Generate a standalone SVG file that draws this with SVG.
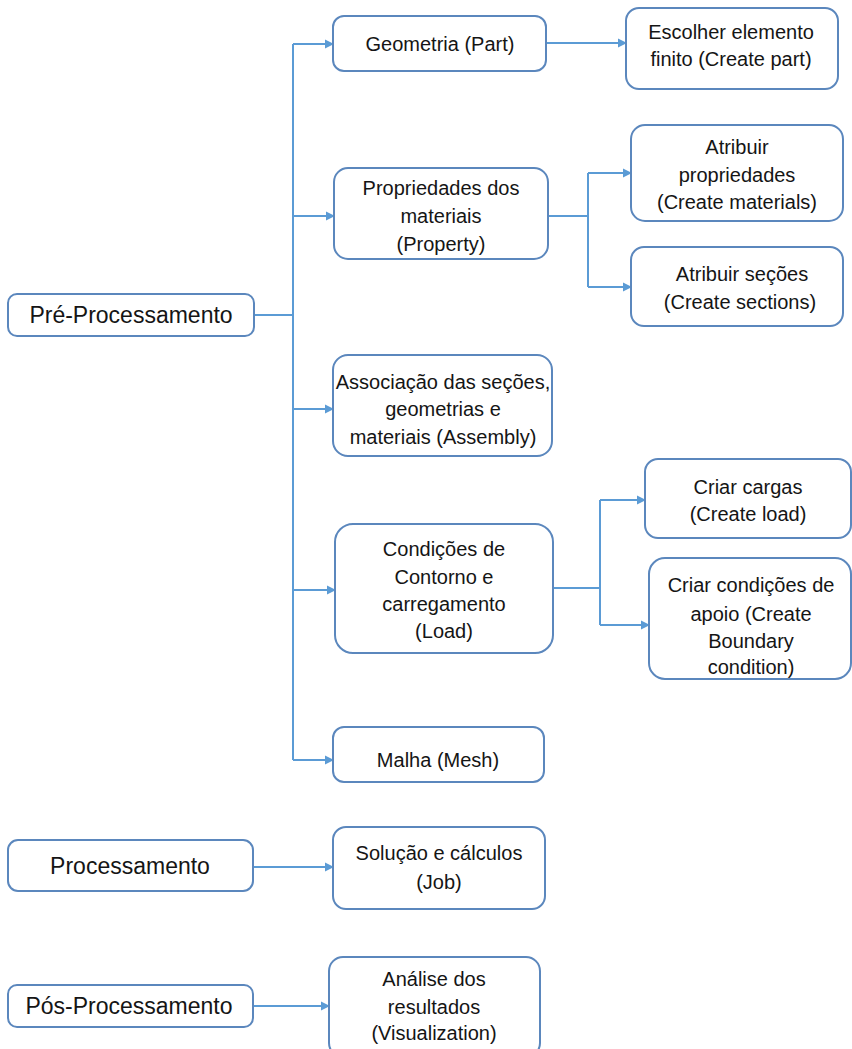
<svg xmlns="http://www.w3.org/2000/svg" width="852" height="1049" viewBox="0 0 852 1049">
<style>
.box{fill:#fff;stroke:#5b87bd;stroke-width:2}
.t{font-family:"Liberation Sans",Arial,sans-serif;font-size:20px;fill:#151515;text-anchor:middle}
.big{font-size:23px}
.c{fill:none;stroke:#5b9bd5;stroke-width:2}
</style>
<defs>
<marker id="ah" markerUnits="userSpaceOnUse" markerWidth="9" markerHeight="10" viewBox="0 0 9 10" refX="8" refY="5" orient="auto">
<path d="M0,0.5 L9,5 L0,9.5 Z" fill="#5b9bd5"/>
</marker>
</defs>
<rect width="852" height="1049" fill="#fff"/>
<g id="connectors">
<path class="c" d="M254,315 H293"/>
<path class="c" d="M293,44 V760"/>
<path class="c" marker-end="url(#ah)" d="M293,44 H333"/>
<path class="c" marker-end="url(#ah)" d="M293,216 H334"/>
<path class="c" marker-end="url(#ah)" d="M293,409 H333"/>
<path class="c" marker-end="url(#ah)" d="M293,590 H335"/>
<path class="c" marker-end="url(#ah)" d="M293,760 H333"/>
<path class="c" marker-end="url(#ah)" d="M546,43 H626"/>
<path class="c" d="M548,216 H588 M588,173 V287"/>
<path class="c" marker-end="url(#ah)" d="M588,173 H631"/>
<path class="c" marker-end="url(#ah)" d="M588,287 H631"/>
<path class="c" d="M553,588 H600 M600,500 V625"/>
<path class="c" marker-end="url(#ah)" d="M600,500 H645"/>
<path class="c" marker-end="url(#ah)" d="M600,625 H649"/>
<path class="c" marker-end="url(#ah)" d="M253,867 H333"/>
<path class="c" marker-end="url(#ah)" d="M253,1006 H329"/>
</g>
<g id="pre">
<rect class="box" x="8" y="294" width="246" height="42" rx="9"/>
<text class="t big" x="131" y="323">Pré-Processamento</text>
</g>
<g id="geometria">
<rect class="box" x="333" y="16" width="213" height="55" rx="11"/>
<text class="t" x="440" y="51">Geometria (Part)</text>
</g>
<g id="escolher">
<rect class="box" x="626" y="8" width="212" height="81" rx="13"/>
<text class="t" x="731" y="39">Escolher elemento</text>
<text class="t" x="731" y="66">finito (Create part)</text>
</g>
<g id="propriedades">
<rect class="box" x="334" y="168" width="214" height="91" rx="14"/>
<text class="t" x="441" y="195">Propriedades dos</text>
<text class="t" x="441" y="223">materiais</text>
<text class="t" x="441" y="251">(Property)</text>
</g>
<g id="atribuir-prop">
<rect class="box" x="631" y="125" width="212" height="96" rx="14"/>
<text class="t" x="737" y="154">Atribuir</text>
<text class="t" x="737" y="182">propriedades</text>
<text class="t" x="737" y="209">(Create materials)</text>
</g>
<g id="atribuir-secoes">
<rect class="box" x="631" y="247" width="212" height="79" rx="13"/>
<text class="t" x="742" y="281">Atribuir seções</text>
<text class="t" x="740" y="309">(Create sections)</text>
</g>
<g id="associacao">
<rect class="box" x="333" y="355" width="219" height="101" rx="15"/>
<text class="t" x="443" y="389">Associação das seções,</text>
<text class="t" x="443" y="416">geometrias e</text>
<text class="t" x="443" y="444">materiais (Assembly)</text>
</g>
<g id="condicoes">
<rect class="box" x="335" y="524" width="218" height="129" rx="18"/>
<text class="t" x="444" y="556">Condições de</text>
<text class="t" x="444" y="584">Contorno e</text>
<text class="t" x="444" y="611">carregamento</text>
<text class="t" x="444" y="638">(Load)</text>
</g>
<g id="criar-cargas">
<rect class="box" x="645" y="459" width="206" height="79" rx="13"/>
<text class="t" x="748" y="494">Criar cargas</text>
<text class="t" x="748" y="521">(Create load)</text>
</g>
<g id="criar-condicoes">
<rect class="box" x="649" y="558" width="202" height="121" rx="16"/>
<text class="t" x="751" y="592">Criar condições de</text>
<text class="t" x="751" y="621">apoio (Create</text>
<text class="t" x="751" y="648">Boundary</text>
<text class="t" x="751" y="674">condition)</text>
</g>
<g id="malha">
<rect class="box" x="333" y="727" width="211" height="55" rx="11"/>
<text class="t" x="438" y="767">Malha (Mesh)</text>
</g>
<g id="processamento">
<rect class="box" x="8" y="840" width="245" height="51" rx="10"/>
<text class="t big" x="130" y="874">Processamento</text>
</g>
<g id="solucao">
<rect class="box" x="333" y="827" width="212" height="82" rx="13"/>
<text class="t" x="439" y="860">Solução e cálculos</text>
<text class="t" x="439" y="889">(Job)</text>
</g>
<g id="pos">
<rect class="box" x="8" y="985" width="245" height="42" rx="9"/>
<text class="t big" x="129" y="1014">Pós-Processamento</text>
</g>
<g id="analise">
<rect class="box" x="329" y="957" width="211" height="100" rx="14"/>
<text class="t" x="434" y="986">Análise dos</text>
<text class="t" x="434" y="1014">resultados</text>
<text class="t" x="434" y="1040">(Visualization)</text>
</g>
</svg>
